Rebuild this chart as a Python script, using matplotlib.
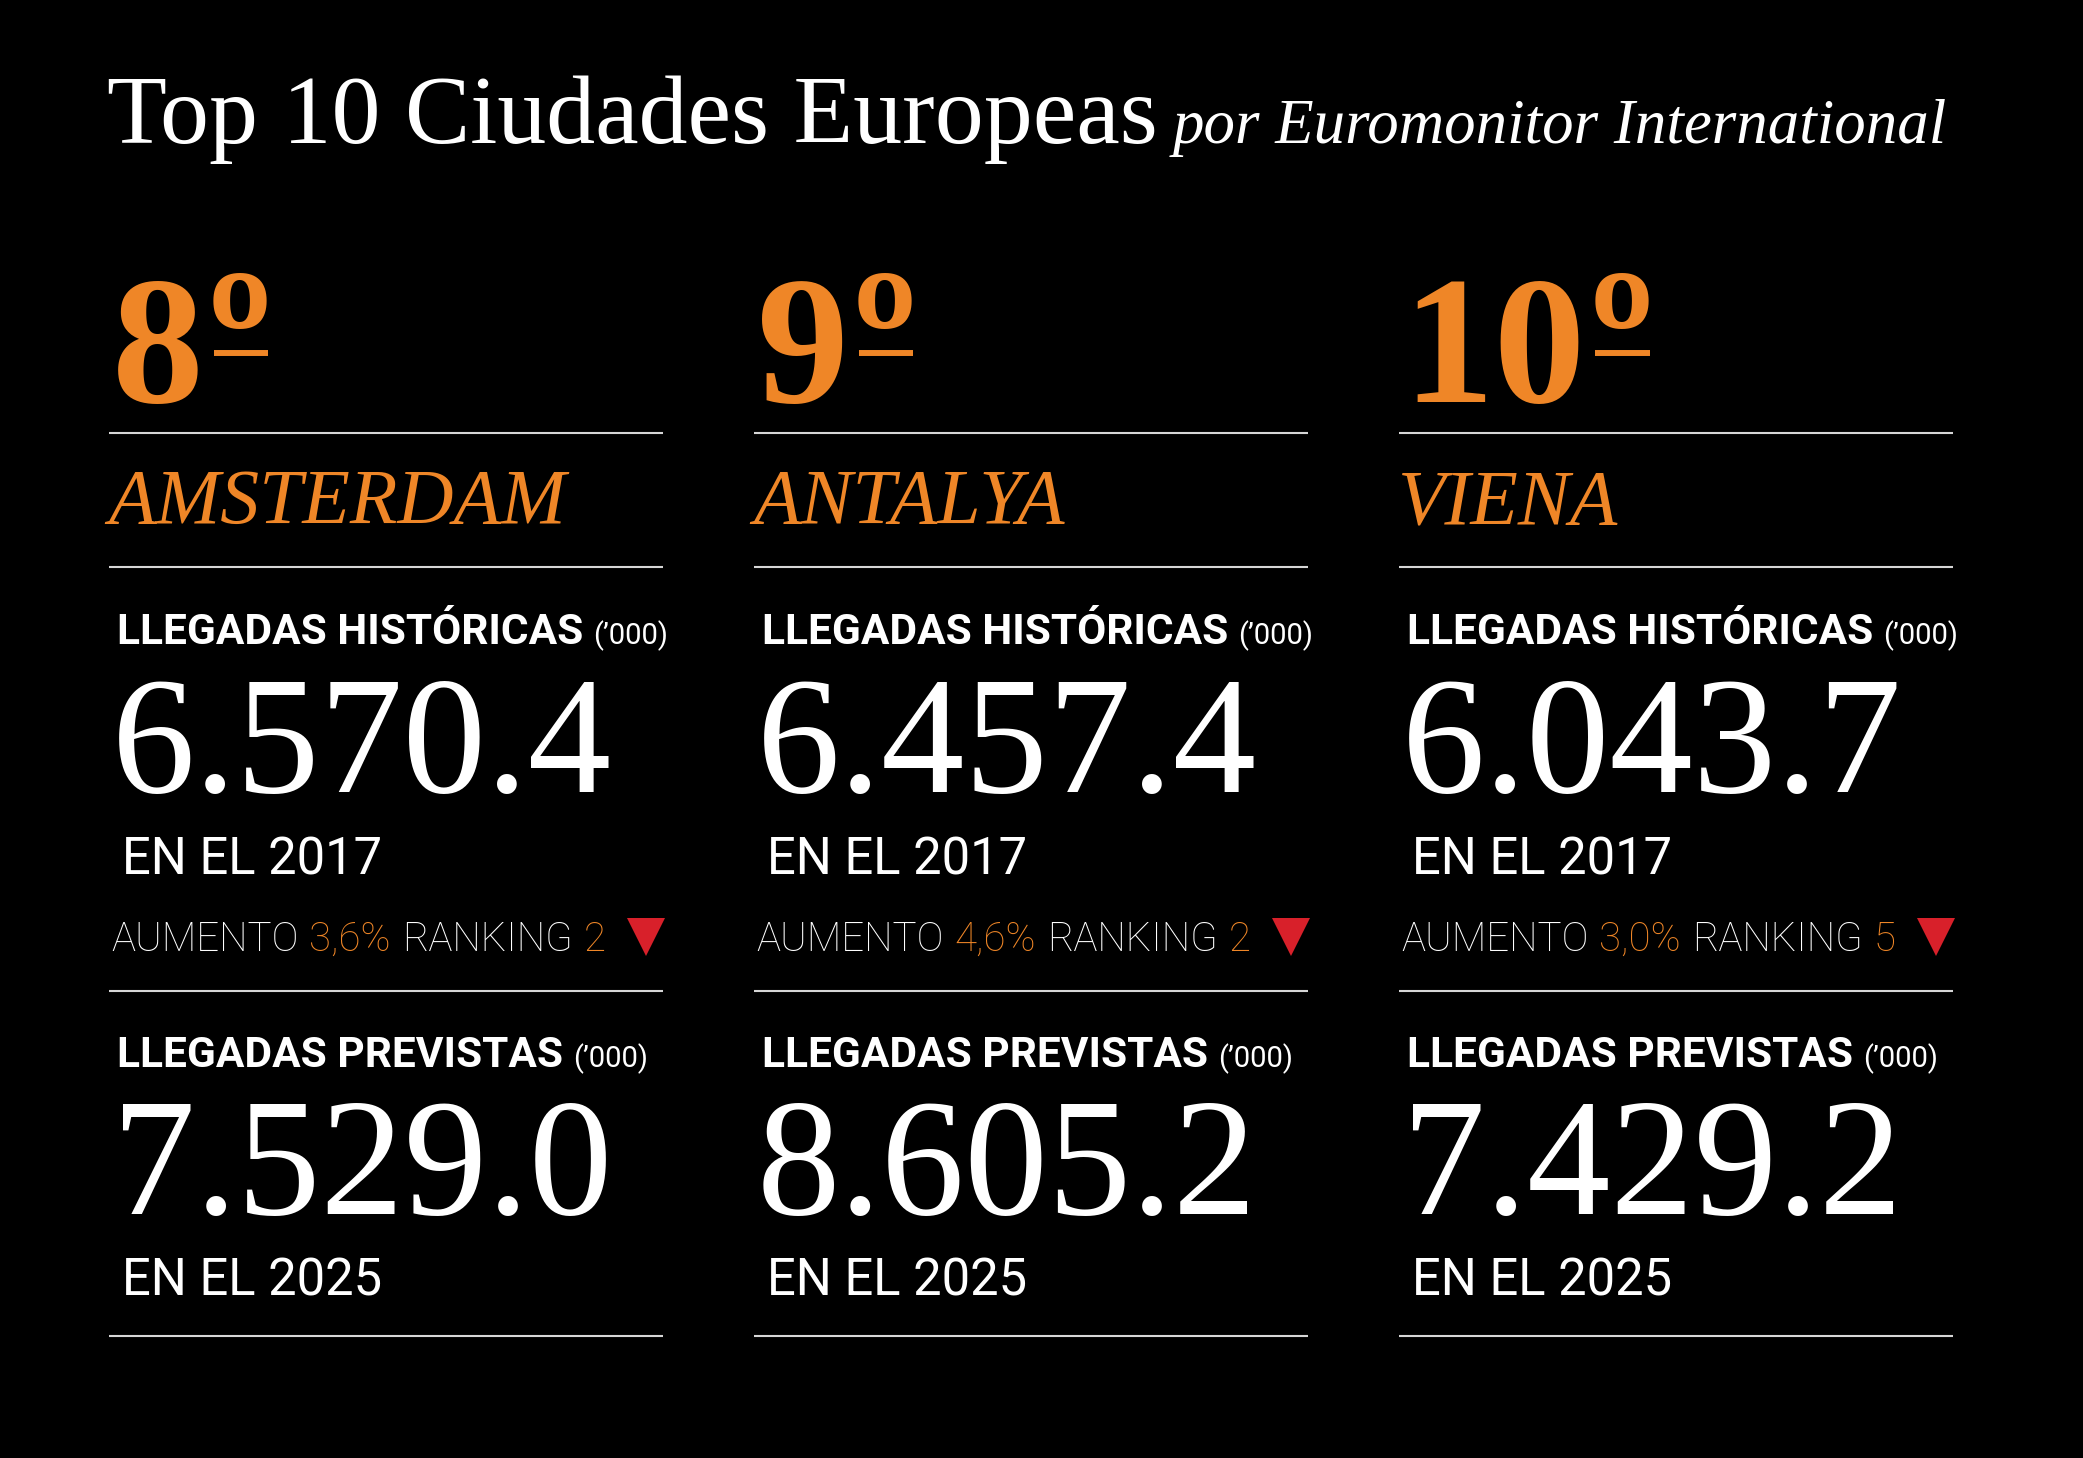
#!/usr/bin/env python3
"""
Top 10 European cities card (positions 8-10), drawn as a black infographic.
"""

import matplotlib
matplotlib.use('Agg')
import matplotlib.pyplot as plt

# Chart data
rank_pos = [8, 9, 10]
cities = ['AMSTERDAM', 'ANTALYA', 'VIENA']
arrivals_2017 = [6570.4, 6457.4, 6043.7]
growth_pct = [3.6, 4.6, 3.0]
ranking_2017 = [2, 2, 5]
arrivals_2025 = [7529.0, 8605.2, 7429.2]

TITLE = 'Top 10 Ciudades Europeas'
SUBTITLE = 'por Euromonitor International'
HEAD_HIST = 'LLEGADAS HISTÓRICAS'
HEAD_PREV = 'LLEGADAS PREVISTAS'
UNIT = '(’000)'

# Colors
BLACK = '#000000'
WHITE = '#FFFFFF'
ORANGE = '#EF8627'
RED = '#D8202A'
RULE = '#D6D6D6'

SERIF = 'Liberation Serif'
SANS = 'Roboto'

W, H = 2083, 1458
COL_STEP = 645


def fmt_num(v):
    return f"{v:,.1f}".replace(',', '.')


def fmt_pct(v):
    return f"{v:.1f}".replace('.', ',') + '%'


def setup():
    fig = plt.figure(figsize=(W / 100, H / 100), dpi=100, facecolor=BLACK)
    ax = fig.add_axes([0, 0, 1, 1])
    ax.set_facecolor(BLACK)
    ax.set_xlim(0, W)
    ax.set_ylim(H, 0)
    ax.axis('off')
    return fig, ax


def x_extent(fig, ax, t):
    """Left/right edges of a text item in data (pixel) coords."""
    r = fig.canvas.get_renderer()
    bb = t.get_window_extent(r)
    inv = ax.transData.inverted()
    return inv.transform((bb.x0, bb.y0))[0], inv.transform((bb.x1, bb.y0))[0]


def fit_width(fig, ax, t, target):
    r = fig.canvas.get_renderer()
    bb = t.get_window_extent(r)
    t.set_fontsize(t.get_fontsize() * target / bb.width)


def main():
    fig, ax = setup()

    # Title
    t = ax.text(107, 143, TITLE, fontsize=72, family=SERIF, color=WHITE, va='baseline')
    fit_width(fig, ax, t, 1050)
    s = ax.text(1173, 143, SUBTITLE, fontsize=48, family=SERIF, style='italic',
                color=WHITE, va='baseline')
    fit_width(fig, ax, s, 773)

    for i in range(len(cities)):
        dx = i * COL_STEP

        # horizontal rules
        ax.hlines([433, 567, 991, 1336], 109 + dx, 663 + dx, color=RULE, linewidth=1.5)

        # rank: number + underlined ordinal sign
        r = ax.text(112 + dx, 402, str(rank_pos[i]), fontsize=132, family=SERIF,
                    fontweight='bold', color=ORANGE, va='baseline')
        rx = x_extent(fig, ax, r)[1]
        o = ax.text(rx + 4, 402, 'º', fontsize=140, family=SERIF, fontweight='bold',
                    color=ORANGE, va='baseline')
        ox0, ox1 = x_extent(fig, ax, o)
        ax.hlines(353, ox0 + 6, ox1 - 4, color=ORANGE, linewidth=4.3)

        # city
        ax.text(108 + dx, 523, cities[i], fontsize=56, family=SERIF, style='italic',
                color=ORANGE, va='baseline')

        # block headers
        for y, head in [(644, HEAD_HIST), (1067, HEAD_PREV)]:
            h = ax.text(117 + dx, y, head, fontsize=30.5, family=SANS, fontweight='bold',
                        color=WHITE, va='baseline')
            ax.text(x_extent(fig, ax, h)[1] + 10, y, UNIT, fontsize=21, family=SANS,
                    color=WHITE, va='baseline')

        # historic arrivals
        ax.text(112 + dx, 792, fmt_num(arrivals_2017[i]), fontsize=120, family=SERIF,
                color=WHITE, va='baseline')
        ax.text(122 + dx, 874, 'EN EL 2017', fontsize=36.5, family=SANS,
                color=WHITE, va='baseline')

        # growth + ranking line
        x = 111 + dx
        parts = [('AUMENTO', WHITE), (fmt_pct(growth_pct[i]), ORANGE),
                 ('RANKING', WHITE), (str(ranking_2017[i]), ORANGE)]
        for txt, col in parts:
            p = ax.text(x, 951, txt, fontsize=29, family=SANS, fontweight='light',
                        color=col, va='baseline')
            x = x_extent(fig, ax, p)[1] + 11
        ax.plot([646 + dx], [937], marker='v', markersize=27, color=RED,
                markeredgewidth=0, linestyle='none')

        # forecast arrivals
        ax.text(112 + dx, 1214, fmt_num(arrivals_2025[i]), fontsize=120, family=SERIF,
                color=WHITE, va='baseline')
        ax.text(122 + dx, 1296, 'EN EL 2025', fontsize=36.5, family=SANS,
                color=WHITE, va='baseline')

    fig.savefig('out.png', dpi=100, facecolor=BLACK)
    plt.close(fig)


if __name__ == "__main__":
    main()
